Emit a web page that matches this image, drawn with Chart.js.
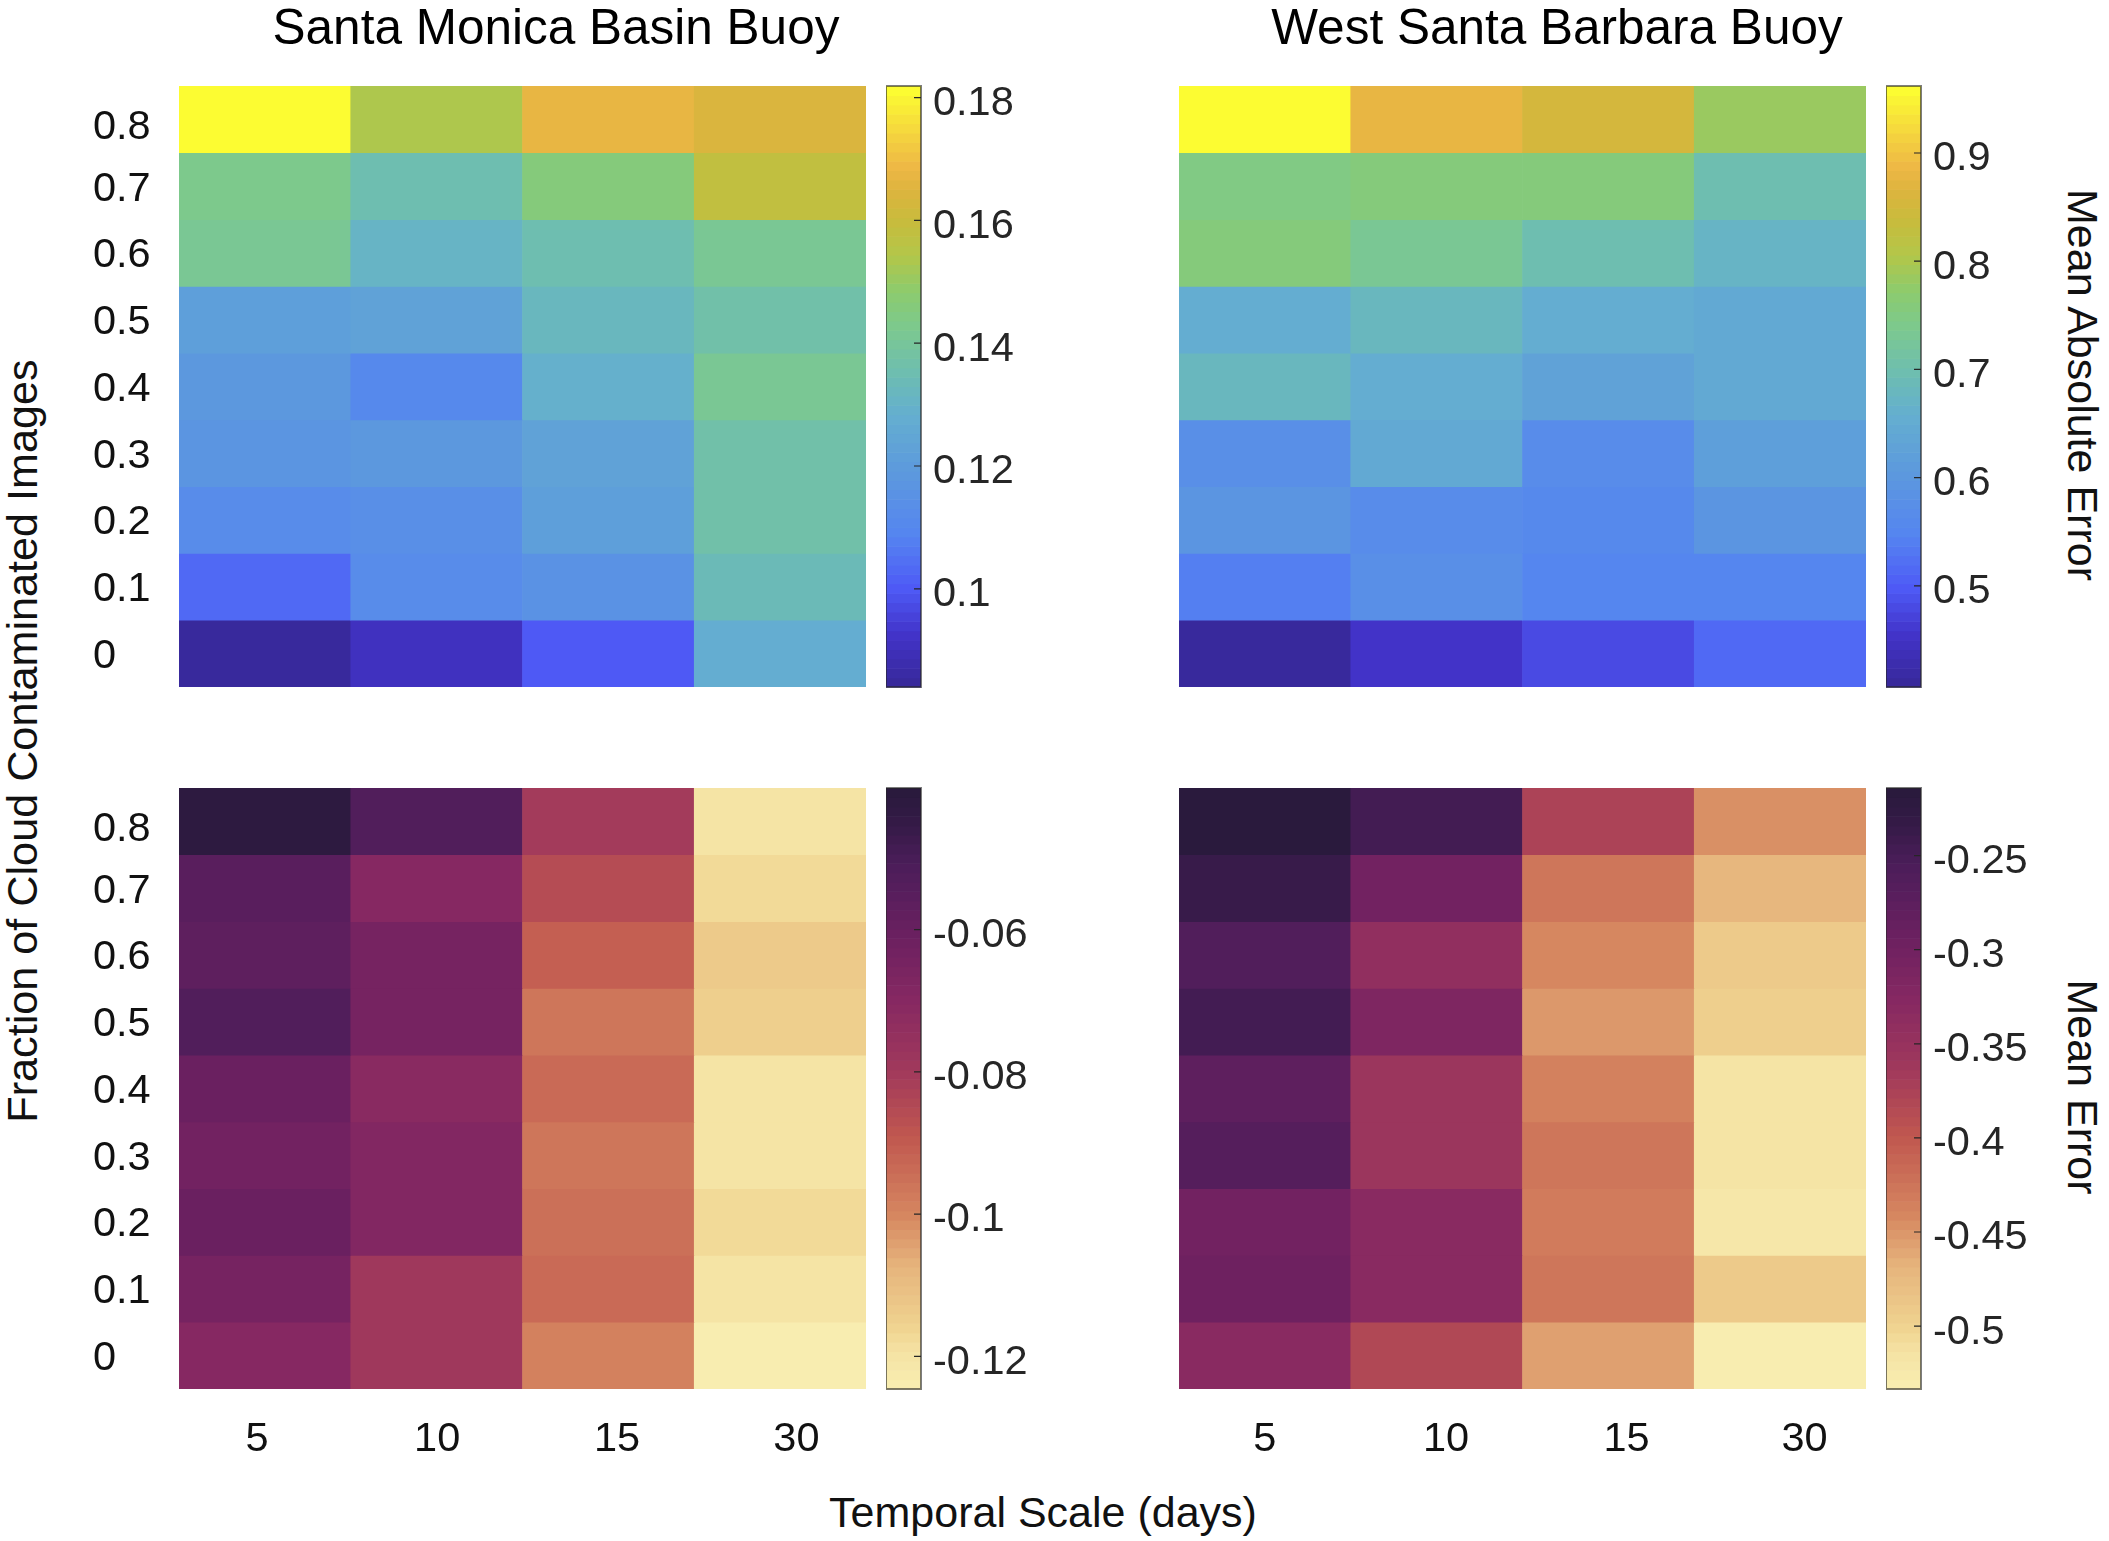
<!DOCTYPE html>
<html>
<head>
<meta charset="utf-8">
<title>Cloud contamination error heatmaps</title>
<script src="https://cdn.jsdelivr.net/npm/chart.js@4"></script>
<style>
  html, body { margin: 0; padding: 0; background: #fff; width: 2109px; height: 1541px; overflow: hidden; }
  canvas { position: absolute; }
  .lbl { position: absolute; white-space: nowrap; font-family: "Liberation Sans", sans-serif; color: #111; line-height: 1.15; }
</style>
</head>
<body>
<div class="lbl" style="left:556px;top:27px;font-size:49.5px;color:#000;transform:translate(-50%,-50%)">Santa Monica Basin Buoy</div>
<div class="lbl" style="left:1557px;top:27px;font-size:49.5px;color:#000;transform:translate(-50%,-50%)">West Santa Barbara Buoy</div>
<div class="lbl" style="left:23px;top:741px;font-size:43.2px;transform:translate(-50%,-50%) rotate(-90deg)">Fraction of Cloud Contaminated Images</div>
<div class="lbl" style="left:1043px;top:1513px;font-size:43px;transform:translate(-50%,-50%)">Temporal Scale (days)</div>
<div class="lbl" style="left:2082px;top:385px;font-size:43px;transform:translate(-50%,-50%) rotate(90deg)">Mean Absolute Error</div>
<div class="lbl" style="left:2082px;top:1087px;font-size:43px;transform:translate(-50%,-50%) rotate(90deg)">Mean Error</div>
<script>
// axes
const temporalScale = ['5', '10', '15', '30'];
const cloudFraction = ['0', '0.1', '0.2', '0.3', '0.4', '0.5', '0.6', '0.7', '0.8'];

// rows listed top to bottom (0.8 ... 0), columns 5 10 15 30
const monicaMae = [
  [0.181, 0.1535, 0.168, 0.1645],
  [0.1425, 0.135, 0.146, 0.158],
  [0.141, 0.131, 0.136, 0.1415],
  [0.1215, 0.1235, 0.132, 0.137],
  [0.119, 0.1105, 0.1285, 0.141],
  [0.1175, 0.119, 0.123, 0.137],
  [0.1125, 0.1135, 0.121, 0.137],
  [0.103, 0.113, 0.115, 0.134],
  [0.0855, 0.091, 0.1, 0.127]
];
const barbaraMae = [
  [0.958, 0.882, 0.856, 0.78],
  [0.75, 0.76, 0.76, 0.698],
  [0.76, 0.735, 0.7, 0.673],
  [0.65, 0.68, 0.65, 0.648],
  [0.676, 0.655, 0.63, 0.642],
  [0.575, 0.645, 0.565, 0.615],
  [0.595, 0.568, 0.555, 0.59],
  [0.545, 0.575, 0.552, 0.546],
  [0.415, 0.455, 0.482, 0.516]
];
const monicaMe = [
  [-0.0415, -0.053, -0.08, -0.1195],
  [-0.055, -0.07, -0.085, -0.117],
  [-0.057, -0.065, -0.0915, -0.1136],
  [-0.053, -0.064, -0.096, -0.1153],
  [-0.06, -0.0715, -0.0933, -0.1204],
  [-0.0635, -0.068, -0.096, -0.1195],
  [-0.061, -0.0688, -0.095, -0.117],
  [-0.065, -0.079, -0.0933, -0.1195],
  [-0.0697, -0.079, -0.0992, -0.124]
];
const barbaraMe = [
  [-0.217, -0.2466, -0.377, -0.447],
  [-0.2368, -0.3035, -0.428, -0.473],
  [-0.262, -0.342, -0.441, -0.489],
  [-0.2466, -0.316, -0.45, -0.495],
  [-0.275, -0.354, -0.4376, -0.5175],
  [-0.268, -0.354, -0.4247, -0.518],
  [-0.3, -0.332, -0.431, -0.5205],
  [-0.2945, -0.332, -0.4247, -0.492],
  [-0.329, -0.38, -0.457, -0.533]
];

// colour limits and colorbar ticks
const monicaMaeLim = [0.084, 0.1819];
const barbaraMaeLim = [0.4065, 0.9619];
const monicaMeLim = [-0.1246, -0.0401];
const barbaraMeLim = [-0.5334, -0.2141];
const monicaMaeTicks = [0.1, 0.12, 0.14, 0.16, 0.18];
const barbaraMaeTicks = [0.5, 0.6, 0.7, 0.8, 0.9];
const monicaMeTicks = [-0.12, -0.1, -0.08, -0.06];
const barbaraMeTicks = [-0.5, -0.45, -0.4, -0.35, -0.3, -0.25];

// where the labels sit along the axes, they are not quite on the cell centres
const yTickPos = [0.5, 1.5, 2.5, 3.5, 4.5, 5.5, 6.5, 7.5, 8.43];
const xTickPosLeft = [0.454, 1.503, 2.55, 3.595];
const xTickPosRight = [0.499, 1.555, 2.606, 3.642];

// colormaps, [position, r, g, b]
const blueYellow = [
  [0, 56, 41, 156], [0.08, 66, 51, 200], [0.16, 78, 90, 246], [0.25, 85, 133, 240],
  [0.35, 92, 152, 222], [0.45, 100, 174, 208], [0.52, 109, 189, 178], [0.6, 124, 201, 142],
  [0.66, 140, 203, 110], [0.72, 178, 199, 74], [0.78, 200, 188, 60], [0.83, 220, 180, 62],
  [0.87, 238, 183, 69], [0.93, 245, 214, 62], [1, 252, 252, 50]
];
const creamPurple = [
  [0, 248, 237, 176], [0.054, 245, 227, 164], [0.1, 239, 210, 143], [0.2, 230, 180, 124],
  [0.29, 213, 133, 95], [0.42, 192, 87, 79], [0.527, 162, 58, 91], [0.65, 134, 40, 98],
  [0.763, 106, 32, 96], [0.88, 75, 29, 90], [0.95, 52, 26, 70], [1, 42, 26, 61]
];

function colorAt(cmap, t) {
  t = Math.max(0, Math.min(1, t));
  // the reference map has visible bands
  t = Math.floor(t * 63.999) / 63;
  let i = 1;
  while (i < cmap.length - 1 && cmap[i][0] < t) i++;
  const a = cmap[i - 1], b = cmap[i];
  const f = (t - a[0]) / (b[0] - a[0]);
  const c = [1, 2, 3].map(k => Math.round(a[k] + (b[k] - a[k]) * f));
  return `rgb(${c[0]},${c[1]},${c[2]})`;
}

function makeCanvas(left, top, w, h) {
  const c = document.createElement('canvas');
  c.width = w;
  c.height = h;
  c.style.left = left + 'px';
  c.style.top = top + 'px';
  c.style.width = w + 'px';
  c.style.height = h + 'px';
  document.body.appendChild(c);
  return c;
}

function noPadding(scale) {
  scale.paddingTop = 0;
  scale.paddingBottom = 0;
  scale.paddingLeft = 0;
  scale.paddingRight = 0;
}

// tick labels in the reference sit a little below the tick
function nudgeLabels(dy) {
  return {
    id: 'nudge',
    beforeDraw(chart) {
      const s = chart.scales.y;
      if (!s.options.display) return;
      s.getLabelItems().forEach(it => {
        const t = it.options.translation;
        it.options.translation = [t[0], t[1] + dy];
      });
    }
  };
}

function heatmap(cfg) {
  const yAxisW = cfg.showY ? cfg.plotLeft - 93 : 0;
  const xAxisH = cfg.showX ? 80 : 0;
  const canvas = makeCanvas(cfg.plotLeft - yAxisW, cfg.plotTop, cfg.plotW + yAxisW, cfg.plotH + xAxisH + 6);
  const nRows = cloudFraction.length;
  const datasets = cfg.values.map((row, r) => ({
    data: row.map((v, c) => ({ x: c + 0.5, y: [nRows - 1 - r, nRows - r], value: v })),
    backgroundColor: row.map(v => colorAt(cfg.cmap, (v - cfg.lim[0]) / (cfg.lim[1] - cfg.lim[0])))
  }));
  return new Chart(canvas, {
    type: 'bar',
    data: { datasets: datasets },
    options: {
      responsive: false,
      animation: false,
      devicePixelRatio: 1,
      grouped: false,
      barPercentage: 1,
      categoryPercentage: 1,
      borderWidth: 0,
      layout: { padding: { bottom: 6 } },
      plugins: { legend: { display: false }, tooltip: { enabled: false }, title: { display: false } },
      scales: {
        x: {
          type: 'linear', min: 0, max: temporalScale.length, offset: false,
          display: cfg.showX,
          grid: { display: false, offset: false, drawTicks: false },
          border: { display: false },
          afterBuildTicks: s => { s.ticks = cfg.xTicks.map(v => ({ value: v })); },
          afterFit: s => { s.height = xAxisH; noPadding(s); },
          ticks: {
            autoSkip: false, maxRotation: 0, padding: 26, color: '#111',
            font: { family: 'Liberation Sans', size: 41.5 },
            callback: (v, i) => temporalScale[i]
          }
        },
        y: {
          type: 'linear', min: 0, max: nRows,
          display: cfg.showY,
          grid: { display: false, drawTicks: false },
          border: { display: false },
          afterBuildTicks: s => { s.ticks = yTickPos.map(v => ({ value: v })); },
          afterFit: s => { s.width = yAxisW; noPadding(s); },
          ticks: {
            autoSkip: false, crossAlign: 'far', color: '#111',
            font: { family: 'Liberation Sans', size: 41.5 },
            callback: (v, i) => cloudFraction[i]
          }
        }
      }
    },
    plugins: [nudgeLabels(3)]
  });
}

// colorbar is a chart with only an axis, the bands are painted behind it from the same scale
function colorbar(cfg) {
  const barW = 35, pad = 24, axisW = 130;
  const canvas = makeCanvas(cfg.left, cfg.top - pad, barW + axisW, cfg.height + pad * 2);
  const barPlugin = {
    id: 'cbar',
    afterDraw(chart) {
      const ctx = chart.ctx, y = chart.scales.y, a = chart.chartArea;
      for (let i = 0; i < 64; i++) {
        const lo = cfg.lim[0] + (cfg.lim[1] - cfg.lim[0]) * i / 64;
        const hi = cfg.lim[0] + (cfg.lim[1] - cfg.lim[0]) * (i + 1) / 64;
        ctx.fillStyle = colorAt(cfg.cmap, (i + 0.5) / 64);
        ctx.fillRect(a.left, y.getPixelForValue(hi), a.right - a.left, y.getPixelForValue(lo) - y.getPixelForValue(hi) + 0.6);
      }
      ctx.strokeStyle = '#26262699';
      ctx.lineWidth = 2;
      ctx.strokeRect(a.left, a.top, a.right - a.left, a.bottom - a.top);
      ctx.lineWidth = 1.2;
      ctx.strokeStyle = '#262626';
      ctx.beginPath();
      cfg.ticks.forEach(v => {
        const py = y.getPixelForValue(v);
        ctx.moveTo(a.right - 7, py);
        ctx.lineTo(a.right, py);
      });
      ctx.stroke();
    }
  };
  return new Chart(canvas, {
    type: 'bar',
    data: { labels: [''], datasets: [{ data: [] }] },
    options: {
      responsive: false,
      animation: false,
      devicePixelRatio: 1,
      layout: { padding: { top: pad, bottom: pad } },
      plugins: { legend: { display: false }, tooltip: { enabled: false } },
      scales: {
        x: { display: false },
        y: {
          type: 'linear', position: 'right', min: cfg.lim[0], max: cfg.lim[1],
          grid: { display: false, drawTicks: false },
          border: { display: false },
          afterBuildTicks: s => { s.ticks = cfg.ticks.map(v => ({ value: v })); },
          afterFit: s => { s.width = axisW; noPadding(s); },
          ticks: {
            autoSkip: false, padding: 12, color: '#262626',
            font: { family: 'Liberation Sans', size: 41.5 },
            callback: v => String(v)
          }
        }
      }
    },
    plugins: [barPlugin, nudgeLabels(6)]
  });
}

heatmap({ values: monicaMae, lim: monicaMaeLim, cmap: blueYellow, plotLeft: 179, plotTop: 86, plotW: 687, plotH: 601, showY: true, showX: false, xTicks: xTickPosLeft });
heatmap({ values: barbaraMae, lim: barbaraMaeLim, cmap: blueYellow, plotLeft: 1179, plotTop: 86, plotW: 687, plotH: 601, showY: false, showX: false, xTicks: xTickPosRight });
heatmap({ values: monicaMe, lim: monicaMeLim, cmap: creamPurple, plotLeft: 179, plotTop: 788, plotW: 687, plotH: 601, showY: true, showX: true, xTicks: xTickPosLeft });
heatmap({ values: barbaraMe, lim: barbaraMeLim, cmap: creamPurple, plotLeft: 1179, plotTop: 788, plotW: 687, plotH: 601, showY: false, showX: true, xTicks: xTickPosRight });

colorbar({ left: 886, top: 86, height: 601, lim: monicaMaeLim, cmap: blueYellow, ticks: monicaMaeTicks });
colorbar({ left: 1886, top: 86, height: 601, lim: barbaraMaeLim, cmap: blueYellow, ticks: barbaraMaeTicks });
colorbar({ left: 886, top: 788, height: 601, lim: monicaMeLim, cmap: creamPurple, ticks: monicaMeTicks });
colorbar({ left: 1886, top: 788, height: 601, lim: barbaraMeLim, cmap: creamPurple, ticks: barbaraMeTicks });
</script>
</body>
</html>
